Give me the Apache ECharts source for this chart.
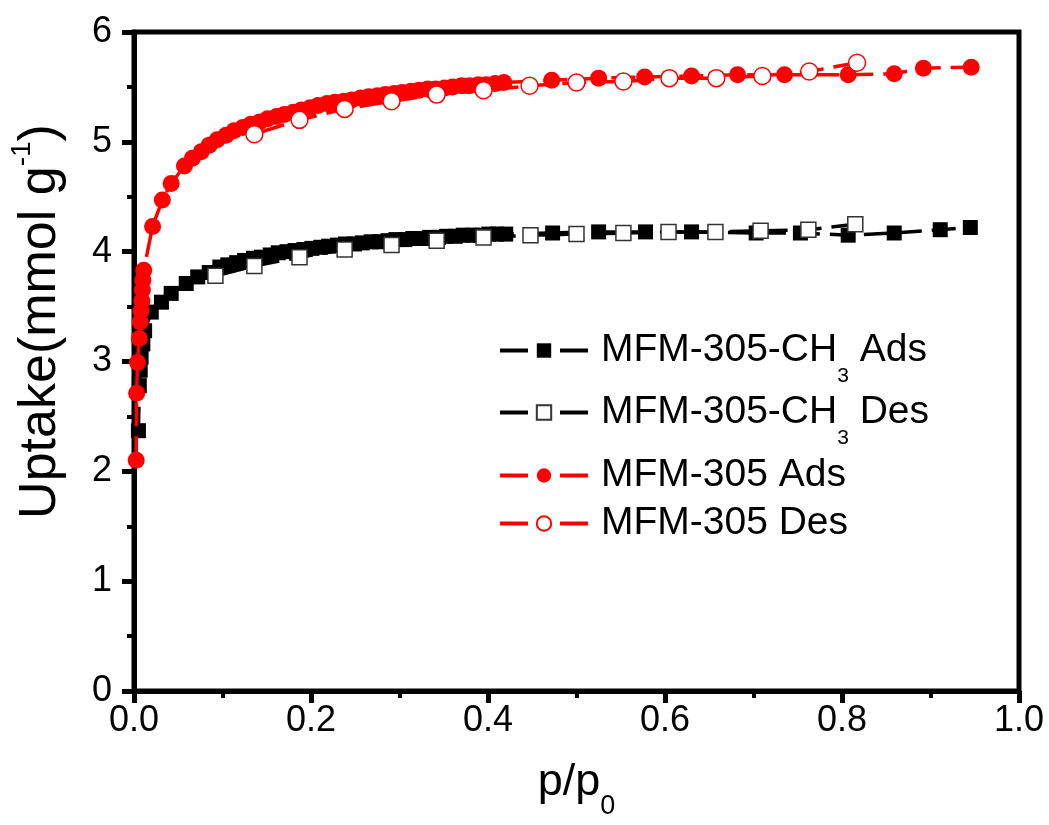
<!DOCTYPE html>
<html>
<head>
<meta charset="utf-8">
<script src="https://cdn.jsdelivr.net/npm/echarts@6/dist/echarts.min.js"></script>
<style>html,body{margin:0;padding:0;background:#fff;}#c{width:1049px;height:825px;}</style>
</head>
<body>
<div id="c"></div>
<script>
// ---- data ----
const seriesNames = ['MFM-305-CH3 Ads', 'MFM-305-CH3 Des', 'MFM-305 Ads', 'MFM-305 Des'];
const xTicks = [0.0, 0.2, 0.4, 0.6, 0.8, 1.0];
const yTicks = [0, 1, 2, 3, 4, 5, 6];

const ch3AdsX = [0.005,0.006,0.007,0.008,0.010,0.012,0.0195,0.031,0.042,0.059,0.072,0.085,
  0.097,0.106,0.116,0.125,0.135,0.144,0.154,0.163,0.173,0.182,0.192,0.201,0.211,0.220,0.230,0.239,
  0.249,0.258,0.268,0.277,0.287,0.296,0.306,0.315,0.325,0.334,0.344,0.353,0.363,0.372,0.382,0.391,
  0.401,0.410,0.420,0.473,0.525,0.578,0.630,0.703,0.753,0.807,0.859,0.911,0.945];
const ch3AdsY = [2.37,2.78,2.92,3.04,3.16,3.28,3.45,3.54,3.62,3.71,3.77,3.81,
  3.86,3.88,3.90,3.92,3.94,3.95,3.97,3.99,4.00,4.01,4.02,4.03,4.04,4.05,4.06,4.07,
  4.07,4.08,4.09,4.09,4.10,4.11,4.11,4.12,4.12,4.13,4.13,4.14,4.14,4.15,4.15,4.15,
  4.16,4.16,4.16,4.17,4.18,4.18,4.18,4.17,4.17,4.15,4.17,4.20,4.22];

const ch3DesX = [0.815,0.762,0.708,0.657,0.604,0.553,0.500,0.448,0.395,0.342,0.291,0.238,0.187,0.136,0.092];
const ch3DesY = [4.25,4.20,4.19,4.18,4.18,4.17,4.16,4.15,4.13,4.10,4.06,4.02,3.95,3.87,3.78];

const mfmAdsX = [0.0025,0.003,0.004,0.006,0.007,0.008,0.009,0.0095,0.010,0.011,0.021,0.032,0.042,
  0.057,0.066,0.076,0.085,0.094,0.104,0.113,0.123,0.132,0.142,0.151,0.161,0.170,0.180,0.189,0.199,
  0.208,0.218,0.227,0.237,0.246,0.256,0.265,0.275,0.284,0.294,0.303,0.313,0.322,0.332,0.341,0.351,
  0.360,0.370,0.379,0.389,0.398,0.408,0.418,0.472,0.525,0.577,0.630,0.682,0.735,0.807,0.859,0.892,0.946];
const mfmAdsY = [2.10,2.71,2.99,3.21,3.36,3.46,3.55,3.65,3.74,3.83,4.23,4.47,4.62,
  4.78,4.85,4.91,4.97,5.02,5.06,5.10,5.13,5.16,5.18,5.21,5.23,5.25,5.27,5.29,5.31,
  5.33,5.35,5.36,5.37,5.38,5.40,5.41,5.42,5.43,5.44,5.45,5.46,5.47,5.48,5.48,5.49,
  5.50,5.51,5.51,5.52,5.52,5.53,5.54,5.56,5.58,5.59,5.60,5.61,5.61,5.61,5.62,5.67,5.68];

const mfmDesX = [0.817,0.763,0.710,0.658,0.605,0.553,0.500,0.447,0.395,0.342,0.291,0.238,0.187,0.136];
const mfmDesY = [5.72,5.64,5.60,5.58,5.58,5.55,5.54,5.51,5.47,5.43,5.37,5.30,5.20,5.07];

// ---- build ----
const zip = (xs, ys) => xs.map((x, i) => [x, ys[i]]);
const FONT = "'Liberation Sans', Arial, Helvetica, sans-serif";
const RED = '#ff0000';
const dash = [24, 10];

const chart = echarts.init(document.getElementById('c'), null, {renderer: 'canvas'});

function mkSeries(name, data, opts) {
  return Object.assign({
    name: name, type: 'line', data: data,
    showSymbol: true, animation: false, clip: false,
    emphasis: {disabled: true}
  }, opts);
}

const series = [
  mkSeries(seriesNames[0], zip(ch3AdsX, ch3AdsY), {
    z: 2, symbol: 'rect', symbolSize: 15,
    itemStyle: {color: '#000'},
    lineStyle: {color: '#000', width: 3.5, type: dash}
  }),
  mkSeries(seriesNames[1], zip(ch3DesX, ch3DesY), {
    z: 3, symbol: 'rect', symbolSize: 15,
    itemStyle: {color: '#fff', borderColor: '#333', borderWidth: 1.5},
    lineStyle: {color: '#000', width: 3.5, type: dash}
  }),
  mkSeries(seriesNames[2], zip(mfmAdsX, mfmAdsY), {
    z: 4, symbol: 'circle', symbolSize: 17,
    itemStyle: {color: RED},
    lineStyle: {color: RED, width: 3.5, type: dash}
  }),
  mkSeries(seriesNames[3], zip(mfmDesX, mfmDesY), {
    z: 5, symbol: 'circle', symbolSize: 17,
    itemStyle: {color: '#fff', borderColor: RED, borderWidth: 1.5},
    lineStyle: {color: RED, width: 3.5, type: dash}
  })
];

const legendRich = {
  a: {fontSize: 39, fontFamily: FONT, color: '#000'},
  s: {fontSize: 21, fontFamily: FONT, color: '#000', padding: [52, 0, 0, 0]}
};
const legendLabels = {
  'MFM-305-CH3 Ads': '{a|MFM-305-CH}{s|3}{a| Ads}',
  'MFM-305-CH3 Des': '{a|MFM-305-CH}{s|3}{a| Des}',
  'MFM-305 Ads': '{a|MFM-305 Ads}',
  'MFM-305 Des': '{a|MFM-305 Des}'
};
const legendTops = [331, 393, 456, 504];
const legends = seriesNames.map((n, i) => ({
  data: [n], orient: 'vertical', left: 498, top: legendTops[i],
  itemWidth: 88, itemHeight: 18, padding: 0, selectedMode: false,
  lineStyle: {width: 4, type: [28, 32]},
  formatter: (name) => legendLabels[name],
  textStyle: {fontSize: 39, fontFamily: FONT, color: '#000', padding: [0, 0, 0, 8], rich: legendRich}
}));

const option = {
  backgroundColor: '#fff',
  animation: false,
  grid: {left: 131, right: 30, top: 32, bottom: 134, show: true, borderColor: '#000', borderWidth: 5, backgroundColor: 'transparent'},
  legend: legends,
  xAxis: {
    type: 'value', min: 0, max: 1, interval: 0.2,
    name: '{a|p/p}{s|0}', nameLocation: 'middle', nameGap: 54,
    nameTextStyle: {rich: {
      a: {fontSize: 45, fontFamily: FONT, color: '#000'},
      s: {fontSize: 27, fontFamily: FONT, color: '#000', padding: [48, 0, 0, 0]}
    }},
    axisLine: {show: true, onZero: false, lineStyle: {color: '#000', width: 5}},
    axisTick: {show: true, inside: false, length: 12, lineStyle: {color: '#000', width: 5}},
    minorTick: {show: true, splitNumber: 2, length: 7, lineStyle: {color: '#000', width: 4}},
    splitLine: {show: false},
    axisLabel: {fontSize: 36, fontFamily: FONT, color: '#000', margin: 12,
      formatter: (v) => { const t = xTicks.find(k => Math.abs(k - v) < 1e-9); return t === undefined ? '' : t.toFixed(1); }}
  },
  yAxis: {
    type: 'value', min: 0, max: 6, interval: 1,
    name: '{a|Uptake(mmol g}{p|-1}{a|)}', nameLocation: 'middle', nameGap: 60, nameRotate: 90,
    nameTextStyle: {padding: [0, 0, 0, 80], rich: {
      a: {fontSize: 52, fontFamily: FONT, color: '#000'},
      p: {fontSize: 28, fontFamily: FONT, color: '#000', padding: [0, 0, 38, 0]}
    }},
    axisLine: {show: true, onZero: false, lineStyle: {color: '#000', width: 5}},
    axisTick: {show: true, inside: false, length: 12, lineStyle: {color: '#000', width: 5}},
    minorTick: {show: true, splitNumber: 2, length: 7, lineStyle: {color: '#000', width: 4}},
    splitLine: {show: false},
    axisLabel: {fontSize: 36, fontFamily: FONT, color: '#000', margin: 22,
      formatter: (v) => { const t = yTicks.find(k => Math.abs(k - v) < 1e-9); return t === undefined ? '' : String(t); }}
  },
  series: series
};
chart.setOption(option);
</script>
</body>
</html>
